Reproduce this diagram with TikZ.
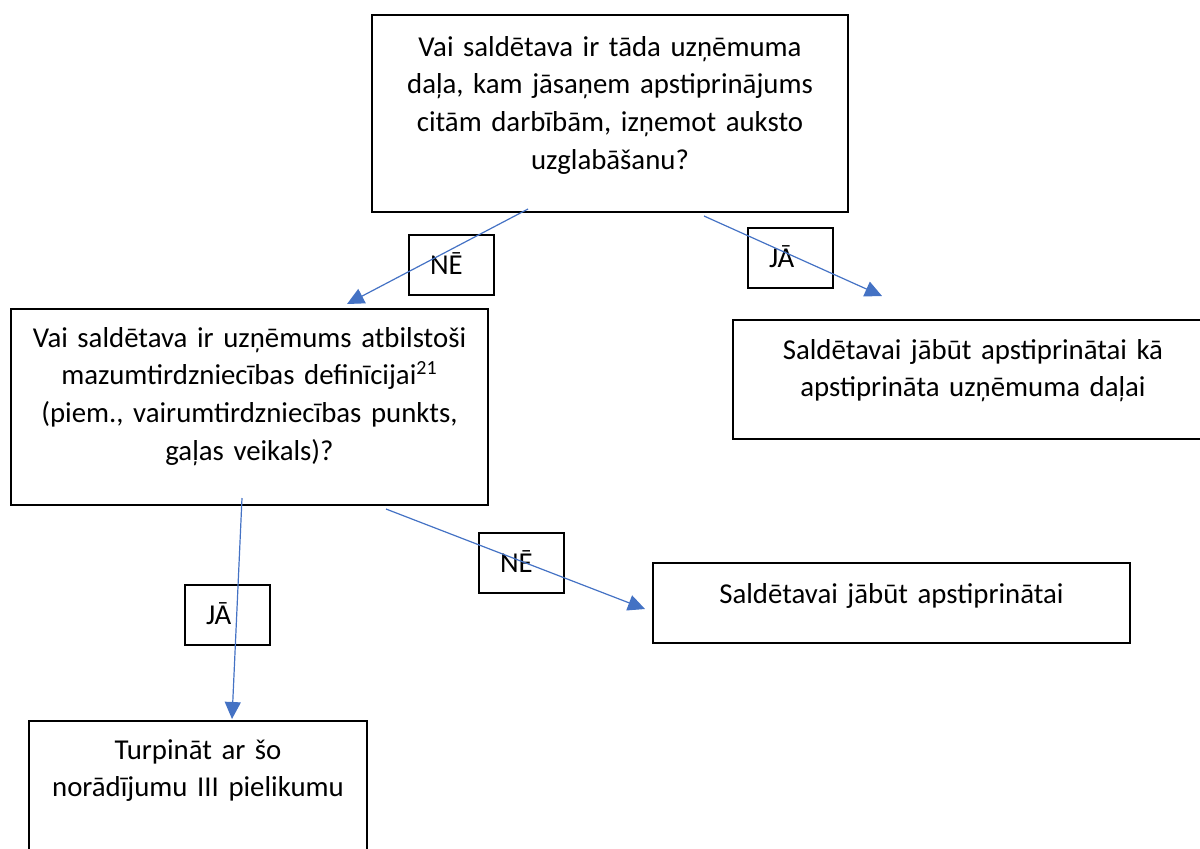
\documentclass[tikz,border=0pt]{standalone}
\usepackage{fontspec}
\setmainfont{Carlito}
\usetikzlibrary{arrows.meta}
\definecolor{ink}{HTML}{000000}
\definecolor{flow}{HTML}{4472C4}
\tikzset{
  box/.style={draw=ink, line width=1pt, inner sep=0pt, anchor=north west, align=center,
    font=\fontsize{14.4}{18.9}\selectfont},
  tag/.style={draw=ink, line width=1pt, inner ysep=0pt, inner xsep=10.5pt, anchor=north west,
    align=left, text width=21.5pt, text height=19.5pt, text depth=10.5pt,
    font=\fontsize{14.4}{16}\selectfont},
  arr/.style={draw=flow, line width=0.6pt, -{Triangle[length=8.5pt,width=8pt]}},
}
\begin{document}
\begin{tikzpicture}[x=0.5pt,y=-0.5pt]
  \useasboundingbox (0,0) rectangle (1200,848);

  \node[box, text width=238pt, text height=20.5pt, text depth=78pt] (q1) at (371,14)
    {Vai saldētava ir tāda uzņēmuma\\daļa, kam jāsaņem apstiprinājums\\citām darbībām, izņemot auksto\\uzglabāšanu?};
  \node[box, text width=238.5pt, text height=19pt, text depth=79pt] (q2) at (10,308)
    {Vai saldētava ir uzņēmums atbilstoši\\mazumtirdzniecības definīcijai\textsuperscript{21}\\(piem., vairumtirdzniecības punkts,\\gaļas veikals)?};
  \node[box, text width=240pt, text height=19.5pt, text depth=40pt] (yes1) at (732,319)
    {Saldētavai jābūt apstiprinātai kā\\apstiprināta uzņēmuma daļai};
  \node[box, text width=238.5pt, text height=20pt, text depth=20pt] (no2) at (652,562)
    {Saldētavai jābūt apstiprinātai};
  \node[box, text width=169pt, text height=19pt, text depth=56pt] (yes2) at (28,720)
    {Turpināt ar šo\\norādījumu III pielikumu};

  \node[tag] (ne1) at (408,234) {NĒ};
  \node[tag] (ja1) at (747,227) {JĀ};
  \node[tag] (ja2) at (184,584) {JĀ};
  \node[tag] (ne2) at (478,532) {NĒ};

  \coordinate (q1l) at (528,209);
  \coordinate (q2t) at (347,304);
  \coordinate (q1r) at (704,216);
  \coordinate (yes1t) at (882,296);
  \coordinate (q2b) at (242,498);
  \coordinate (yes2t) at (232,719);
  \coordinate (q2r) at (386,509);
  \coordinate (no2l) at (645,609);

  \draw[arr] (q1l) -- (q2t);
  \draw[arr] (q1r) -- (yes1t);
  \draw[arr] (q2b) -- (yes2t);
  \draw[arr] (q2r) -- (no2l);
\end{tikzpicture}
\end{document}
